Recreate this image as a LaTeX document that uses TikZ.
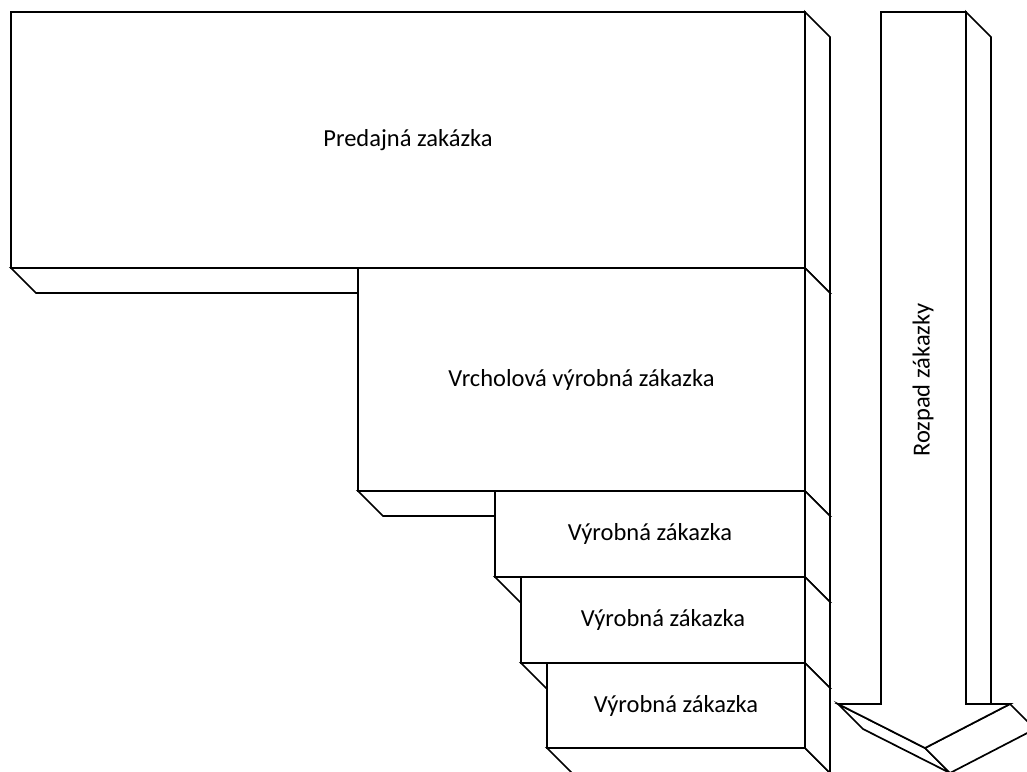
\documentclass[tikz,border=0pt]{standalone}
\usepackage{fontspec}
\setmainfont{Carlito}
\begin{document}
\begin{tikzpicture}[x=1pt,y=-1pt,line width=1.7pt,line join=miter,
  face/.style={draw=black,fill=white},
  lbl/.style={font=\fontsize{24.5}{29}\selectfont,inner sep=0pt}]
\useasboundingbox (0,0) rectangle (1027,771);
\clip (0,0) rectangle (1027,771);
% extruded block: name, left, top, right, bottom, label
\newcommand\orderslab[6]{%
  \draw[face] (#2,#5) -- ++(25,25) -- (#4+25,#5+25) -- (#4,#5) -- cycle;
  \draw[face] (#4,#3) -- (#4+25,#3+25) -- (#4+25,#5+25) -- (#4,#5) -- cycle;
  \draw[face] (#2,#3) rectangle (#4,#5);
  \node[lbl] (#1) at ({(#2+#4)/2},{(#3+#5)/2}) {#6};
}
\orderslab{sales}{11}{12}{805}{268}{Predajná zakázka}
\orderslab{top}{358}{268}{805}{491}{Vrcholová výrobná zákazka}
\orderslab{prodA}{495}{491}{805}{577}{Výrobná zákazka}
\orderslab{prodB}{521}{577}{805}{663}{Výrobná zákazka}
\orderslab{prodC}{547}{663}{805}{748}{Výrobná zákazka}
% breakdown arrow
\draw[face] (838,704) -- (863,729) -- (950,773) -- (925,748) -- cycle;
\draw[face] (925,748) -- (950,773) -- (1035,729) -- (1010,704) -- cycle;
\draw[face] (966,12) -- (991,37) -- (991,704) -- (966,704) -- cycle;
\draw[face] (881,12) -- (966,12) -- (966,704) -- (1010,704) -- (925,748)
  -- (838,704) -- (881,704) -- cycle;
\node[lbl,rotate=90] (breakdown) at (923,380) {Rozpad zákazky};
\end{tikzpicture}
\end{document}
